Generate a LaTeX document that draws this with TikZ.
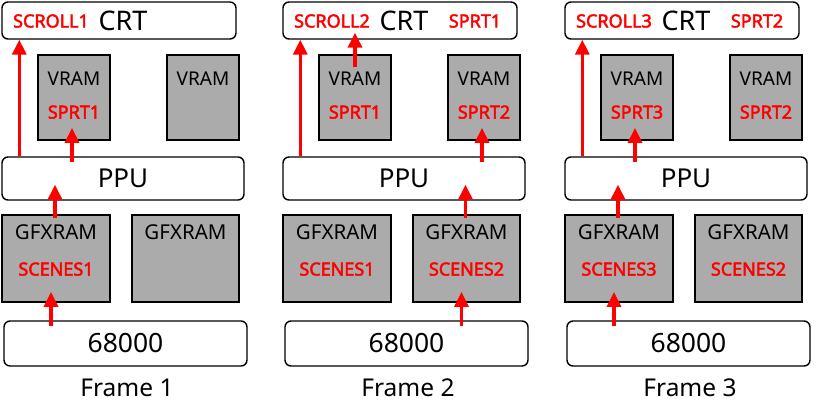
\documentclass[tikz,border=0pt]{standalone}
\usepackage{fontspec}
\setmainfont{Noto Sans}
\newfontfamily\tagfont{Noto Sans}[FakeBold=2.5]
\usetikzlibrary{arrows.meta}

\definecolor{ramgray}{RGB}{171,171,171}
\tikzset{
  unit/.style={draw, rounded corners=6pt, line width=1.4pt, fill=white, inner sep=0pt},
  ram/.style={draw, line width=1.8pt, fill=ramgray, inner sep=0pt},
  title/.style={inner sep=0pt, font=\fontsize{19}{21}\selectfont},
  tag/.style={inner sep=0pt, text=red, font=\tagfont\fontsize{18}{20}\selectfont},
  flow/.style={red, line width=3.5pt, -{Triangle[width=14pt,length=15pt]}},
}

\begin{document}
\begin{tikzpicture}[x=1pt,y=-1pt]
\useasboundingbox (0,0) rectangle (820,400);

% frame 1
\begin{scope}[xshift=0pt]
\node[unit, minimum width=234pt, minimum height=37pt] (crt1) at (119,20.5) {};
\node[inner sep=0pt, font=\fontsize{27}{29}\selectfont] (crtLbl1) at ([xshift=4pt]crt1.center) {CRT};
\node[tag] (scroll1) at (51,21) {SCROLL1};
\node[ram, minimum width=72pt, minimum height=85pt] (vramL1) at (74,97.5) {};
\node[title] (vramLt1) at ([yshift=-25pt]vramL1.north) {VRAM};
\node[tag] (vramLs1) at ([yshift=-58pt]vramL1.north) {SPRT1};
\node[ram, minimum width=72pt, minimum height=85pt] (vramR1) at (203,97.5) {};
\node[title] (vramRt1) at ([yshift=-25pt]vramR1.north) {VRAM};
\node[unit, minimum width=242pt, minimum height=43pt, font=\fontsize{26}{28}\selectfont] (ppu1) at (123,178.5) {PPU};
\node[ram, minimum width=108pt, minimum height=87pt] (gfxL1) at (56,258.5) {};
\node[title, font=\fontsize{20.5}{22}\selectfont] (gfxLt1) at ([yshift=-18pt]gfxL1.north) {GFXRAM};
\node[tag] (gfxLs1) at ([yshift=-55pt]gfxL1.north) {SCENES1};
\node[ram, minimum width=107pt, minimum height=87pt] (gfxR1) at (185.5,258.5) {};
\node[title, font=\fontsize{20.5}{22}\selectfont] (gfxRt1) at ([yshift=-18pt]gfxR1.north) {GFXRAM};
\node[unit, minimum width=243pt, minimum height=45pt, font=\fontsize{26.5}{28}\selectfont] (cpu1) at (125.5,343.5) {68000};
\node[anchor=base, inner sep=0pt, font=\fontsize{24.5}{27}\selectfont] (frame1) at (127,396) {Frame 1};
\draw[flow] ([xshift=18pt]ppu1.north west) -- ([xshift=18pt]crt1.south west);
\draw[flow] ([xshift=-2pt,yshift=-6pt]ppu1.north -| vramL1) -- ([xshift=-2pt,yshift=13pt]vramL1.south);
\draw[flow] ([xshift=-1pt,yshift=-4pt]gfxL1.north) -- ([xshift=-1pt,yshift=16pt]ppu1.south -| gfxL1);
\draw[flow] ([xshift=-5pt,yshift=-6pt]cpu1.north -| gfxL1) -- ([xshift=-5pt,yshift=11pt]gfxL1.south);
\end{scope}

% frame 2
\begin{scope}[xshift=281pt]
\node[unit, minimum width=234pt, minimum height=37pt] (crt2) at (119,20.5) {};
\node[inner sep=0pt, font=\fontsize{27}{29}\selectfont] (crtLbl2) at ([xshift=4pt]crt2.center) {CRT};
\node[tag] (scroll2) at (51,21) {SCROLL2};
\node[tag] (sprite2) at (194,21) {SPRT1};
\node[ram, minimum width=72pt, minimum height=85pt] (vramL2) at (74,97.5) {};
\node[title] (vramLt2) at ([yshift=-25pt]vramL2.north) {VRAM};
\node[tag] (vramLs2) at ([yshift=-58pt]vramL2.north) {SPRT1};
\node[ram, minimum width=72pt, minimum height=85pt] (vramR2) at (203,97.5) {};
\node[title] (vramRt2) at ([yshift=-25pt]vramR2.north) {VRAM};
\node[tag] (vramRs2) at ([yshift=-58pt]vramR2.north) {SPRT2};
\node[unit, minimum width=242pt, minimum height=43pt, font=\fontsize{26}{28}\selectfont] (ppu2) at (123,178.5) {PPU};
\node[ram, minimum width=108pt, minimum height=87pt] (gfxL2) at (56,258.5) {};
\node[title, font=\fontsize{20.5}{22}\selectfont] (gfxLt2) at ([yshift=-18pt]gfxL2.north) {GFXRAM};
\node[tag] (gfxLs2) at ([yshift=-55pt]gfxL2.north) {SCENES1};
\node[ram, minimum width=107pt, minimum height=87pt] (gfxR2) at (185.5,258.5) {};
\node[title, font=\fontsize{20.5}{22}\selectfont] (gfxRt2) at ([yshift=-18pt]gfxR2.north) {GFXRAM};
\node[tag] (gfxRs2) at ([yshift=-55pt]gfxR2.north) {SCENES2};
\node[unit, minimum width=243pt, minimum height=45pt, font=\fontsize{26.5}{28}\selectfont] (cpu2) at (125.5,343.5) {68000};
\node[anchor=base, inner sep=0pt, font=\fontsize{24.5}{27}\selectfont] (frame2) at (127,396) {Frame 2};
\draw[flow] ([xshift=18pt]ppu2.north west) -- ([xshift=18pt]crt2.south west);
\draw[flow] ([yshift=-13pt]vramL2.north) -- ([yshift=7pt]crt2.south -| vramL2);
\draw[flow] ([xshift=-2pt,yshift=-6pt]ppu2.north -| vramR2) -- ([xshift=-2pt,yshift=13pt]vramR2.south);
\draw[flow] ([xshift=-1pt,yshift=-4pt]gfxR2.north) -- ([xshift=-1pt,yshift=16pt]ppu2.south -| gfxR2);
\draw[flow] ([xshift=-5pt,yshift=-6pt]cpu2.north -| gfxR2) -- ([xshift=-5pt,yshift=11pt]gfxR2.south);
\end{scope}

% frame 3
\begin{scope}[xshift=563pt]
\node[unit, minimum width=234pt, minimum height=37pt] (crt3) at (119,20.5) {};
\node[inner sep=0pt, font=\fontsize{27}{29}\selectfont] (crtLbl3) at ([xshift=4pt]crt3.center) {CRT};
\node[tag] (scroll3) at (51,21) {SCROLL3};
\node[tag] (sprite3) at (194,21) {SPRT2};
\node[ram, minimum width=72pt, minimum height=85pt] (vramL3) at (74,97.5) {};
\node[title] (vramLt3) at ([yshift=-25pt]vramL3.north) {VRAM};
\node[tag] (vramLs3) at ([yshift=-58pt]vramL3.north) {SPRT3};
\node[ram, minimum width=72pt, minimum height=85pt] (vramR3) at (203,97.5) {};
\node[title] (vramRt3) at ([yshift=-25pt]vramR3.north) {VRAM};
\node[tag] (vramRs3) at ([yshift=-58pt]vramR3.north) {SPRT2};
\node[unit, minimum width=242pt, minimum height=43pt, font=\fontsize{26}{28}\selectfont] (ppu3) at (123,178.5) {PPU};
\node[ram, minimum width=108pt, minimum height=87pt] (gfxL3) at (56,258.5) {};
\node[title, font=\fontsize{20.5}{22}\selectfont] (gfxLt3) at ([yshift=-18pt]gfxL3.north) {GFXRAM};
\node[tag] (gfxLs3) at ([yshift=-55pt]gfxL3.north) {SCENES3};
\node[ram, minimum width=107pt, minimum height=87pt] (gfxR3) at (185.5,258.5) {};
\node[title, font=\fontsize{20.5}{22}\selectfont] (gfxRt3) at ([yshift=-18pt]gfxR3.north) {GFXRAM};
\node[tag] (gfxRs3) at ([yshift=-55pt]gfxR3.north) {SCENES2};
\node[unit, minimum width=243pt, minimum height=45pt, font=\fontsize{26.5}{28}\selectfont] (cpu3) at (125.5,343.5) {68000};
\node[anchor=base, inner sep=0pt, font=\fontsize{24.5}{27}\selectfont] (frame3) at (127,396) {Frame 3};
\draw[flow] ([xshift=18pt]ppu3.north west) -- ([xshift=18pt]crt3.south west);
\draw[flow] ([xshift=-2pt,yshift=-6pt]ppu3.north -| vramL3) -- ([xshift=-2pt,yshift=13pt]vramL3.south);
\draw[flow] ([xshift=-1pt,yshift=-4pt]gfxL3.north) -- ([xshift=-1pt,yshift=16pt]ppu3.south -| gfxL3);
\draw[flow] ([xshift=-5pt,yshift=-6pt]cpu3.north -| gfxL3) -- ([xshift=-5pt,yshift=11pt]gfxL3.south);
\end{scope}
\end{tikzpicture}
\end{document}
